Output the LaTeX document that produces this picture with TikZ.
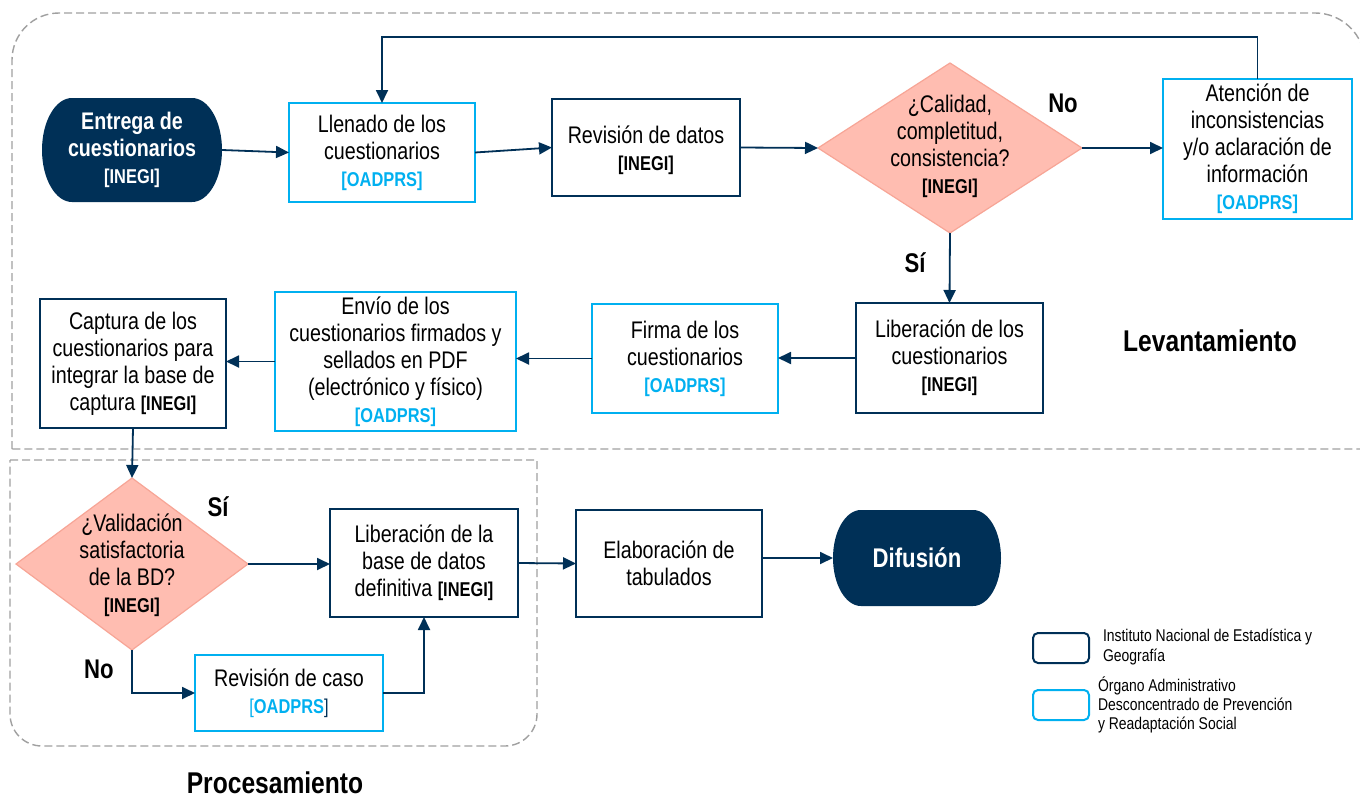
\documentclass[tikz,border=0pt]{standalone}
\usepackage{fontspec}
\setmainfont{Liberation Sans}[FakeStretch=0.82]
\usetikzlibrary{shapes.geometric,arrows.meta}
\definecolor{inegiblue}{RGB}{0,48,87}
\definecolor{oblue}{RGB}{0,176,240}
\definecolor{salfill}{RGB}{255,189,177}
\definecolor{salline}{RGB}{247,165,150}
\definecolor{zonegrey}{RGB}{160,160,160}
\newcommand\inegtag{{\bfseries\fontsize{20}{24}\selectfont[INEGI]}}
\newcommand\oadtag{{\bfseries\fontsize{20}{24}\selectfont\color{oblue}[OADPRS]}}
\newcommand\oadtagb{{\fontsize{20}{24}\selectfont\color{oblue}[{\bfseries OADPRS}\color{inegiblue}]}}
\newcommand\stadiumshape[5]{%
  \fill[inegiblue] (#1-#3+#5,#2-#4) -- (#1+#3-#5,#2-#4)
    arc[start angle=90,end angle=-90,x radius=#5pt,y radius=#4pt]
    -- (#1-#3+#5,#2+#4)
    arc[start angle=270,end angle=90,x radius=#5pt,y radius=#4pt] -- cycle;}
\tikzset{
  every node/.style={inner sep=0pt,outer sep=0pt},
  body/.style={font=\fontsize{24}{27}\selectfont,align=center,text=black},
  ibox/.style={body,rectangle,draw=inegiblue,line width=1.8pt,fill=white},
  obox/.style={body,rectangle,draw=oblue,line width=1.8pt,fill=white},
  termtext/.style={rectangle,align=center,text=white,font=\bfseries\fontsize{24}{27}\selectfont},
  decision/.style={diamond,draw=salline,fill=salfill,line width=1.2pt},
  arr/.style={draw=inegiblue,line width=1.8pt,-{Triangle[length=13pt,width=12pt]}},
  lbl/.style={font=\bfseries\fontsize{27}{30}\selectfont,text=black},
  zonetitle/.style={font=\bfseries\fontsize{30}{34}\selectfont,text=black},
  zone/.style={draw=zonegrey,line width=1.4pt,dash pattern=on 8pt off 4pt},
  legbox/.style={rectangle,rounded corners=5pt,line width=2pt,fill=white,minimum width=56,minimum height=30},
  legtext/.style={font=\fontsize{17}{20}\selectfont,align=left,anchor=west,text=black},
}
\begin{document}
\begin{tikzpicture}[x=1pt,y=-1pt]
\useasboundingbox (0,0) rectangle (1360,800);
\clip (0,0) rectangle (1360,800);
\fill[white] (0,0) rectangle (1360,800);
% zones
\draw[zone] (12,449) -- (12,60) arc[start angle=180,end angle=90,radius=47pt]
  -- (1315,13) arc[start angle=90,end angle=0,radius=50pt] -- (1365,449) -- cycle;
\draw[zone] (10,460) -- (537,460) -- (537,714) arc[start angle=0,end angle=-90,radius=32pt]
  -- (42,746) arc[start angle=270,end angle=180,radius=32pt] -- cycle;
\node[zonetitle] (tlev) at (1210,341) {Levantamiento};
\node[zonetitle] (tpro) at (275,783) {Procesamiento};
% terminators
\stadiumshape{132}{150}{90}{52}{30}
\node[termtext,minimum width=180,minimum height=104] (ent) at (132,150)
  {Entrega de\\cuestionarios\\{\fontsize{20}{24}\selectfont[INEGI]}};
\stadiumshape{917}{558}{84}{48}{28}
\node[termtext,minimum width=168,minimum height=96,font=\bfseries\fontsize{27}{30}\selectfont] (dif) at (917,558) {Difusión};
% row 1
\node[obox,minimum width=186,minimum height=99] (lle) at (382,152.5)
  {Llenado de los\\cuestionarios\\\oadtag};
\node[ibox,minimum width=188,minimum height=97] (rev) at (646,147.5)
  {\\[-3pt]Revisión de datos\\\inegtag};
\node[decision,minimum width=264,minimum height=170] (d1) at (950,148) {};
\node[body] (d1t) at (950,146) {¿Calidad,\\completitud,\\consistencia?\\\inegtag};
\node[obox,minimum width=189,minimum height=140] (ate) at (1257.5,149)
  {Atención de\\inconsistencias\\y/o aclaración de\\información\\\oadtag};
% row 2
\node[ibox,minimum width=187,minimum height=110] (lib) at (949.5,358)
  {Liberación de los\\cuestionarios\\\inegtag};
\node[obox,minimum width=186,minimum height=109] (fir) at (685,358.5)
  {Firma de los\\cuestionarios\\\oadtag};
\node[obox,minimum width=241,minimum height=139] (env) at (395.5,361.5)
  {Envío de los\\cuestionarios firmados y\\sellados en PDF\\(electrónico y físico)\\\oadtag};
\node[ibox,minimum width=186,minimum height=129] (cap) at (133,363.5)
  {Captura de los\\cuestionarios para\\integrar la base de\\captura \inegtag};
% row 3
\node[decision,minimum width=232,minimum height=172] (d2) at (132,564) {};
\node[body] (d2t) at (132,565) {¿Validación\\satisfactoria\\de la BD?\\\inegtag};
\node[ibox,minimum width=188,minimum height=108] (lbd) at (424,563)
  {Liberación de la\\base de datos\\definitiva \inegtag};
\node[obox,minimum width=188,minimum height=76] (rca) at (289,693)
  {Revisión de caso\\\oadtagb};
\node[ibox,minimum width=186,minimum height=107] (ela) at (669,563.5)
  {Elaboración de\\tabulados};
% labels
\node[lbl] (lno1) at (1063,103) {No};
\node[lbl] (lsi1) at (915,263) {Sí};
\node[lbl] (lsi2) at (218,507) {Sí};
\node[lbl] (lno2) at (99,669) {No};
% connectors
\draw[arr] (ent.east) -- (lle.west);
\draw[arr] (lle.east) -- (rev.west);
\draw[arr] (rev.east) -- (d1.west);
\draw[arr] (d1.east) -- (ate.west |- d1.east);
\draw[arr] (ate.north) -- ++(0,-42) -| (lle.north);
\draw[arr] (d1.south) -- (lib.north);
\draw[arr] (lib.west) -- (fir.east |- lib.west);
\draw[arr] (fir.west) -- (env.east |- fir.west);
\draw[arr] (env.west) -- (cap.east |- env.west);
\draw[arr] (cap.south) -- (d2.north);
\draw[arr] (d2.east) -- (lbd.west |- d2.east);
\draw[arr] (d2.south) |- (rca.west);
\draw[arr] (rca.east) -| (lbd.south);
\draw[arr] (lbd.east) -- (ela.west);
\draw[arr] (ela.east |- dif.west) -- (dif.west);
% legend
\node[legbox,draw=inegiblue] (leg1) at (1061,648) {};
\node[legtext] (leg1t) at (1103,647) {Instituto Nacional de Estadística y\\Geografía};
\node[legbox,draw=oblue] (leg2) at (1061,705) {};
\node[legtext,font=\fontsize{17}{19}\selectfont] (leg2t) at (1098,705) {Órgano Administrativo\\Desconcentrado de Prevención\\y Readaptación Social};
\end{tikzpicture}
\end{document}
